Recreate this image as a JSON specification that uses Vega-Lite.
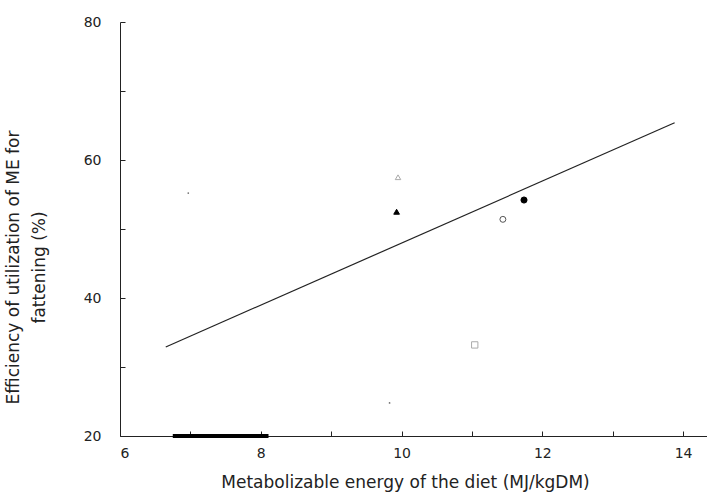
{
  "$schema": "https://vega.github.io/schema/vega-lite/v6.json",
  "autosize": {"type": "none"},
  "padding": {"left": 120, "top": 22, "right": 0, "bottom": 58},
  "width": 587,
  "height": 414,
  "background": "white",
  "config": {
    "view": {"stroke": null},
    "axis": {
      "grid": false,
      "domainColor": "#222",
      "tickColor": "#222",
      "labelColor": "#222",
      "titleColor": "#222",
      "labelFont": "DejaVu Sans",
      "titleFont": "DejaVu Sans",
      "labelFontSize": 14,
      "titleFontSize": 16,
      "titleFontWeight": "normal"
    }
  },
  "encoding": {
    "x": {
      "type": "quantitative",
      "scale": {"domain": [6, 14.34], "nice": false, "zero": false},
      "axis": {
        "title": "Metabolizable energy of the diet (MJ/kgDM)",
        "titleFontSize": 17,
        "titleX": 285,
        "titleAnchor": "middle",
        "values": [6, 7, 8, 9, 10, 11, 12, 13, 14],
        "labelExpr": "datum.value % 2 == 0 ? datum.label : ''",
        "tickSize": -5,
        "labelPadding": 15,
        "titlePadding": 14
      }
    },
    "y": {
      "type": "quantitative",
      "scale": {"domain": [20, 80], "nice": false, "zero": false},
      "axis": {
        "title": ["Efficiency of utilization of ME for", "fattening (%)"],
        "titleFontSize": 17,
        "values": [20, 30, 40, 50, 60, 70, 80],
        "labelExpr": "datum.value % 20 == 0 ? datum.label : ''",
        "tickSize": -5,
        "labelPadding": 24,
        "titleX": -98,
        "titleY": 245,
        "titleLineHeight": 26
      }
    }
  },
  "layer": [
    {
      "data": {"values": [{"x": 6.65, "y": 32.9}, {"x": 13.88, "y": 65.4}]},
      "mark": {"type": "line", "color": "#222", "strokeWidth": 1.2},
      "encoding": {"x": {"field": "x", "type": "quantitative"}, "y": {"field": "y", "type": "quantitative"}}
    },
    {
      "data": {"values": [{"x": 6.75, "x2": 8.11, "y": 20}]},
      "mark": {"type": "rule", "color": "black", "strokeWidth": 4},
      "encoding": {"x": {"field": "x", "type": "quantitative"}, "x2": {"field": "x2"}, "y": {"field": "y", "type": "quantitative"}}
    },
    {
      "data": {"values": [{"x": 6.97, "y": 55.2}, {"x": 9.83, "y": 24.8}]},
      "mark": {"type": "point", "filled": true, "color": "#333", "size": 3},
      "encoding": {"x": {"field": "x", "type": "quantitative"}, "y": {"field": "y", "type": "quantitative"}}
    },
    {
      "data": {"values": [
        {"group": "A", "x": 9.95, "y": 57.5},
        {"group": "B", "x": 9.93, "y": 52.5},
        {"group": "C", "x": 11.44, "y": 51.4},
        {"group": "D", "x": 11.74, "y": 54.2},
        {"group": "E", "x": 11.04, "y": 33.2}
      ]},
      "mark": {"type": "point", "strokeWidth": 1, "opacity": 1},
      "encoding": {
        "x": {"field": "x", "type": "quantitative"},
        "y": {"field": "y", "type": "quantitative"},
        "shape": {"field": "group", "type": "nominal", "legend": null,
          "scale": {"domain": ["A", "B", "C", "D", "E"], "range": ["triangle-up", "triangle-up", "circle", "circle", "square"]}},
        "fill": {"field": "group", "type": "nominal", "legend": null,
          "scale": {"domain": ["A", "B", "C", "D", "E"], "range": ["transparent", "black", "transparent", "black", "transparent"]}},
        "stroke": {"field": "group", "type": "nominal", "legend": null,
          "scale": {"domain": ["A", "B", "C", "D", "E"], "range": ["#aaa", "black", "#555", "black", "#aaa"]}},
        "size": {"field": "group", "type": "nominal", "legend": null,
          "scale": {"domain": ["A", "B", "C", "D", "E"], "range": [30, 40, 50, 60, 35]}}
      }
    }
  ]
}
